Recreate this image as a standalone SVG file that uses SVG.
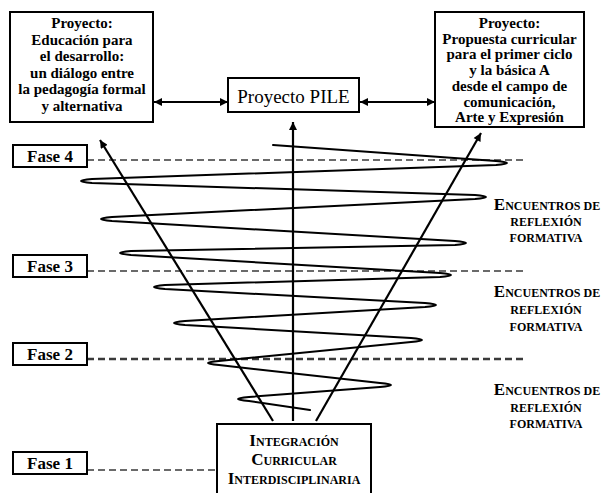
<svg xmlns="http://www.w3.org/2000/svg" width="604" height="493" viewBox="0 0 604 493">
  <style>
    text { font-family: 'Liberation Serif', 'DejaVu Serif', serif; fill: #000; text-anchor: middle; }
    .box { fill: #fff; stroke: #000; stroke-width: 2; }
    .b { font-weight: bold; font-size: 15px; }
    .fase { font-weight: bold; font-size: 17px; }
    .sc { font-weight: bold; font-size: 12px; }
    .cap { font-size: 17px; }
    .dash { stroke: #3a3a3a; stroke-width: 1.6; stroke-dasharray: 7 4; fill: none; }
    .arrow { stroke: #000; stroke-width: 2.2; fill: none; }
    .spiral { stroke: #000; stroke-width: 2; fill: none; stroke-linejoin: round; stroke-linecap: round; }
  </style>
  <defs>
    <marker id="head" viewBox="0 0 10 10" refX="10" refY="5" markerWidth="10" markerHeight="8" markerUnits="userSpaceOnUse" orient="auto-start-reverse">
      <path d="M0,0 L10,5 L0,10 z" fill="#000"/>
    </marker>
  </defs>
  <rect width="604" height="493" fill="#fff"/>

  <!-- phase guide lines and the spiral of formative reflection -->
  <g id="connectors">
    <line class="dash" x1="87" y1="160" x2="523" y2="160"/>
    <line class="dash" x1="87" y1="271" x2="523" y2="271"/>
    <line class="dash" x1="87" y1="359" x2="523" y2="359" style="stroke-width:2.6"/>
    <line class="dash" x1="87" y1="470" x2="217" y2="470"/>

    <path class="spiral" d="M 273 145
      L 496 161 Q 518 163 496 165
      L 92 179 Q 70 181 92 183
      L 475 195 Q 497 197 475 199
      L 112 217 Q 90 219 112 221
      L 455 241 Q 477 243 455 245
      L 131 251 Q 109 253 131 255
      L 440 273 Q 462 275 440 277
      L 165 285 Q 143 287 165 289
      L 425 303 Q 447 305 425 307
      L 185 321 Q 163 323 185 325
      L 411 338 Q 433 340 411 342
      L 219 361 Q 197 363 219 365
      L 380 383 Q 402 385 380 387
      L 249 397 Q 227 399 249 401
      L 310 410"/>

    <line class="arrow" x1="293" y1="421" x2="293" y2="122" marker-end="url(#head)"/>
    <line class="arrow" x1="273" y1="421" x2="100" y2="140" marker-end="url(#head)"/>
    <line class="arrow" x1="316" y1="421" x2="481" y2="133" marker-end="url(#head)"/>
    <line class="arrow" x1="154" y1="102" x2="228" y2="102" marker-start="url(#head)" marker-end="url(#head)"/>
    <line class="arrow" x1="360" y1="102" x2="435" y2="102" marker-start="url(#head)" marker-end="url(#head)"/>
  </g>

  <g id="proyecto-educacion">
    <rect class="box" x="10" y="12" width="143" height="110"/>
    <text class="b" x="82" y="28">Proyecto:</text>
    <text class="b" x="82" y="44.5">Educación para</text>
    <text class="b" x="82" y="61">el desarrollo:</text>
    <text class="b" x="82" y="77.5">un diálogo entre</text>
    <text class="b" x="82" y="94">la pedagogía formal</text>
    <text class="b" x="82" y="110.5">y alternativa</text>
  </g>

  <g id="proyecto-pile">
    <rect class="box" x="228" y="78" width="131" height="34"/>
    <text x="293.5" y="103" font-size="19">Proyecto PILE</text>
  </g>

  <g id="proyecto-propuesta">
    <rect class="box" x="435" y="12" width="149" height="115"/>
    <text class="b" x="509.5" y="28">Proyecto:</text>
    <text class="b" x="509.5" y="43.7">Propuesta curricular</text>
    <text class="b" x="509.5" y="59.4">para el primer ciclo</text>
    <text class="b" x="509.5" y="75.1">y la básica A</text>
    <text class="b" x="509.5" y="90.8">desde el campo de</text>
    <text class="b" x="509.5" y="106.5">comunicación,</text>
    <text class="b" x="509.5" y="122.2">Arte y Expresión</text>
  </g>

  <g id="integracion">
    <rect class="box" x="217" y="424" width="154" height="80"/>
    <text class="sc" x="294" y="446"><tspan class="cap">I</tspan>NTEGRACIÓN</text>
    <text class="sc" x="294" y="465"><tspan class="cap">C</tspan>URRICULAR</text>
    <text class="sc" x="294" y="484"><tspan class="cap">I</tspan>NTERDISCIPLINARIA</text>
  </g>

  <g id="fase-4">
    <rect class="box" x="13" y="145" width="74" height="22"/>
    <text class="fase" x="50" y="162">Fase 4</text>
  </g>
  <g id="fase-3">
    <rect class="box" x="13" y="255" width="74" height="22"/>
    <text class="fase" x="50" y="272">Fase 3</text>
  </g>
  <g id="fase-2">
    <rect class="box" x="13" y="343" width="74" height="22"/>
    <text class="fase" x="50" y="360">Fase 2</text>
  </g>
  <g id="fase-1">
    <rect class="box" x="13" y="452" width="74" height="22"/>
    <text class="fase" x="50" y="469">Fase 1</text>
  </g>

  <g id="encuentros-1">
    <text class="sc" x="547" y="210"><tspan class="cap">E</tspan>NCUENTROS DE</text>
    <text class="sc" x="546" y="226">REFLEXIÓN</text>
    <text class="sc" x="546" y="242">FORMATIVA</text>
  </g>
  <g id="encuentros-2">
    <text class="sc" x="547" y="297"><tspan class="cap">E</tspan>NCUENTROS DE</text>
    <text class="sc" x="546" y="314">REFLEXIÓN</text>
    <text class="sc" x="546" y="331">FORMATIVA</text>
  </g>
  <g id="encuentros-3">
    <text class="sc" x="547" y="395"><tspan class="cap">E</tspan>NCUENTROS DE</text>
    <text class="sc" x="546" y="412">REFLEXIÓN</text>
    <text class="sc" x="546" y="428">FORMATIVA</text>
  </g>
</svg>
